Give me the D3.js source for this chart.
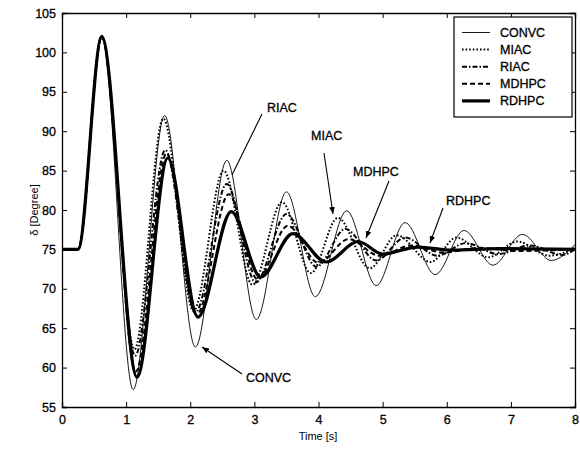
<!DOCTYPE html>
<html>
<head>
<meta charset="utf-8">
<script src="https://cdn.jsdelivr.net/npm/d3@7"></script>
<style>
  body { margin: 0; background: #fff; }
  svg text { font-family: Arial, "Liberation Sans", sans-serif; fill: #000; }
</style>
</head>
<body>
<svg id="chart" width="580" height="449"></svg>
<script>
// time [s] / delta [deg] (peaks and troughs)
var convcT = [0, 0.25, 0.62, 1.11, 1.6, 2.08, 2.57, 3.03, 3.5, 3.95, 4.44, 4.9, 5.35, 5.82, 6.27, 6.72, 7.18, 7.63, 8];
var convcV = [75, 75, 102.2, 57.2, 92, 62.6, 86.3, 66.1, 82.3, 69, 79.9, 70.4, 78.4, 71.8, 77.4, 73, 76.9, 73.6, 75.6];

var miacT = [0, 0.25, 0.62, 1.13, 1.58, 2.05, 2.52, 2.97, 3.43, 3.88, 4.3, 4.8, 5.22, 5.75, 6.15, 6.65, 7.1, 7.6, 8];
var miacV = [75, 75, 102, 62.3, 91.6, 67.2, 85, 70.5, 81, 72, 79, 72.6, 76.8, 73.4, 76.5, 74, 76, 74.2, 75.2];

var riacT = [0, 0.25, 0.62, 1.14, 1.61, 2.08, 2.57, 3.02, 3.5, 3.97, 4.42, 4.9, 5.35, 5.85, 6.3, 6.8, 7.3, 7.8, 8];
var riacV = [75, 75, 102, 61.5, 87.6, 67, 83.3, 70.8, 79.5, 72.8, 77.6, 73.6, 76.5, 74.2, 75.8, 74.4, 75.5, 74.3, 75];

var mdhpcT = [0, 0.25, 0.62, 1.15, 1.63, 2.1, 2.6, 3.05, 3.52, 4.0, 4.47, 4.95, 5.45, 5.95, 6.5, 7.1, 8];
var mdhpcV = [75, 75, 102, 59.5, 87.2, 66.7, 82, 71.2, 78, 73.3, 76.3, 74.2, 75.5, 74.6, 75.2, 74.8, 75];

var rdhpcT = [0, 0.25, 0.62, 1.17, 1.65, 2.12, 2.64, 3.1, 3.6, 4.12, 4.62, 5.0, 5.55, 6.1, 6.8, 8];
var rdhpcV = [75, 75, 102, 58.8, 86.6, 66.4, 79.8, 71.5, 77, 73.4, 76, 74.4, 75.3, 74.9, 75.1, 75];

var xTicks = [0, 1, 2, 3, 4, 5, 6, 7, 8];
var yTicks = [55, 60, 65, 70, 75, 80, 85, 90, 95, 100, 105];

var series = [
    { name: 'CONVC', t: convcT, v: convcV, width: 0.9, dash: null },
    { name: 'MIAC', t: miacT, v: miacV, width: 2, dash: '1.6,2' },
    { name: 'RIAC', t: riacT, v: riacV, width: 2, dash: '5,2,1.5,2' },
    { name: 'MDHPC', t: mdhpcT, v: mdhpcV, width: 2, dash: '5,3' },
    { name: 'RDHPC', t: rdhpcT, v: rdhpcV, width: 3.2, dash: null }
];

var plotL = 62, plotR = 575, plotT = 13, plotB = 407;

var svg = d3.select('#chart');

var x = d3.scaleLinear().domain([0, 8]).range([plotL, plotR]);
var y = d3.scaleLinear().domain([55, 105]).range([plotB, plotT]);

var plot = svg.append('g');

var line = d3.line()
    .x(function(d) { return x(d[0]); })
    .y(function(d) { return y(d[1]); })
    .curve(d3.curveMonotoneX);

series.forEach(function(s) {
    var pts = s.t.map(function(t, i) { return [t, s.v[i]]; });
    plot.append('path')
        .attr('d', line(pts))
        .attr('fill', 'none')
        .attr('stroke', '#000')
        .attr('stroke-width', s.width)
        .attr('stroke-dasharray', s.dash)
        .attr('stroke-linejoin', 'round');
});

// axes, MATLAB style: ticks inside on all four sides
svg.append('g')
    .attr('transform', 'translate(0,' + plotB + ')')
    .call(d3.axisBottom(x).tickValues(xTicks).tickSize(-5).tickPadding(8).tickFormat(d3.format('d')));
svg.append('g')
    .attr('transform', 'translate(0,' + plotT + ')')
    .call(d3.axisTop(x).tickValues(xTicks).tickSize(-5).tickFormat(''));
svg.append('g')
    .attr('transform', 'translate(' + plotL + ',0)')
    .call(d3.axisLeft(y).tickValues(yTicks).tickSize(-5).tickPadding(6).tickFormat(d3.format('d')));
svg.append('g')
    .attr('transform', 'translate(' + plotR + ',0)')
    .call(d3.axisRight(y).tickValues(yTicks).tickSize(-5).tickFormat(''));

svg.selectAll('.domain').attr('stroke', '#000').attr('stroke-width', 1.3);
svg.selectAll('.tick line').attr('stroke', '#000');
svg.selectAll('.tick text')
    .style('font-size', '12.5px')
    .style('font-family', 'Arial, sans-serif')
    .attr('fill', '#000')
    .attr('stroke', '#000')
    .attr('stroke-width', 0.3);

// axis titles
svg.append('text')
    .attr('x', 318).attr('y', 440)
    .attr('text-anchor', 'middle')
    .style('font-size', '11px')
    .text('Time [s]');
svg.append('text')
    .attr('transform', 'translate(38,' + ((plotT + plotB) / 2) + ') rotate(-90)')
    .attr('text-anchor', 'middle')
    .style('font-size', '11px')
    .text('δ [Degree]');

// legend
var legend = svg.append('g');
legend.append('rect')
    .attr('x', 454).attr('y', 17)
    .attr('width', 118).attr('height', 100)
    .attr('fill', '#fff').attr('stroke', '#000').attr('stroke-width', 1.2);

series.forEach(function(s, i) {
    var ly = 32.5 + i * 17.1;
    legend.append('line')
        .attr('x1', 462).attr('x2', 490)
        .attr('y1', ly).attr('y2', ly)
        .attr('stroke', '#000')
        .attr('stroke-width', s.width)
        .attr('stroke-dasharray', s.dash);
    legend.append('text')
        .attr('x', 500).attr('y', ly + 4.5)
        .style('font-size', '12.5px')
        .attr('stroke', '#000').attr('stroke-width', 0.3)
        .text(s.name);
});

// annotations
var notes = [
    { label: 'RIAC', tx: 267, ty: 112, x1: 262, y1: 114, x2: 232, y2: 175, head: false },
    { label: 'MIAC', tx: 311, ty: 140, x1: 324, y1: 153, x2: 333, y2: 214, head: true },
    { label: 'MDHPC', tx: 353, ty: 176, x1: 389, y1: 181, x2: 366, y2: 238, head: true },
    { label: 'RDHPC', tx: 446, ty: 205, x1: 443, y1: 208, x2: 430, y2: 243, head: true },
    { label: 'CONVC', tx: 246, ty: 382, x1: 242, y1: 374, x2: 202, y2: 347, head: true }
];

svg.append('defs').append('marker')
    .attr('id', 'arrow')
    .attr('viewBox', '0 0 10 10')
    .attr('refX', 10).attr('refY', 5)
    .attr('markerWidth', 7).attr('markerHeight', 7)
    .attr('markerUnits', 'userSpaceOnUse')
    .attr('orient', 'auto')
    .append('path')
    .attr('d', 'M0,1 L10,5 L0,9 Z')
    .attr('fill', '#000');

notes.forEach(function(n) {
    svg.append('line')
        .attr('x1', n.x1).attr('y1', n.y1)
        .attr('x2', n.x2).attr('y2', n.y2)
        .attr('stroke', '#000').attr('stroke-width', 1.1)
        .attr('marker-end', n.head ? 'url(#arrow)' : null);
    svg.append('text')
        .attr('x', n.tx).attr('y', n.ty)
        .style('font-size', '12.5px')
        .attr('stroke', '#000').attr('stroke-width', 0.3)
        .text(n.label);
});
</script>
</body>
</html>
